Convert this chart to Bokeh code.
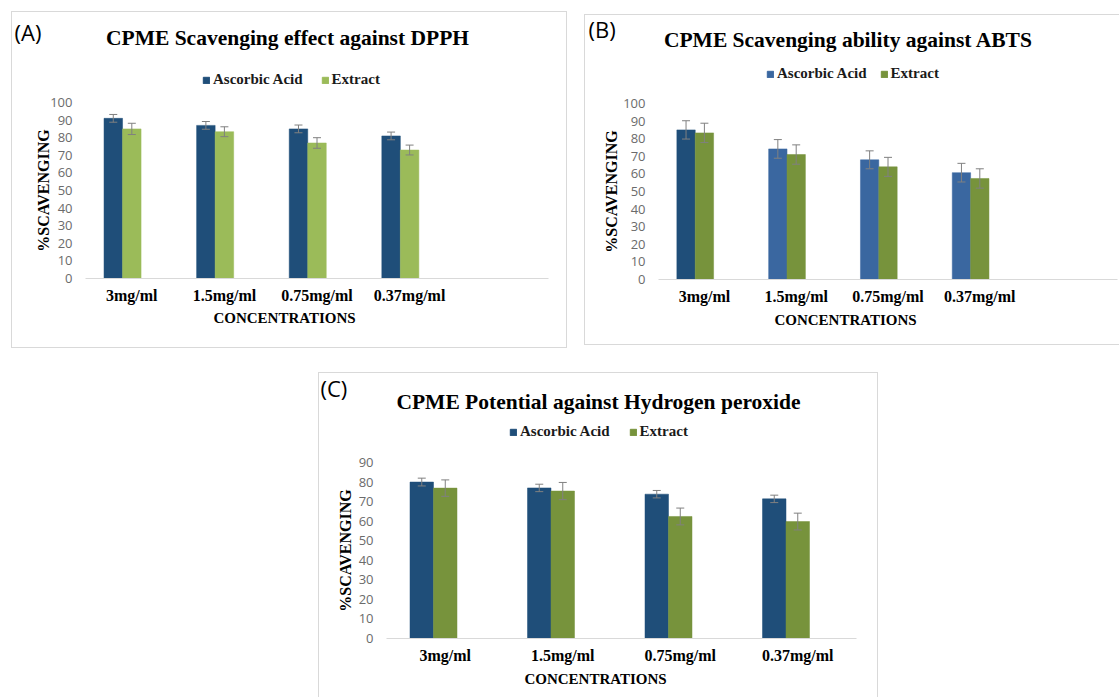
import numpy as np
from bokeh.plotting import figure
from bokeh.models import (ColumnDataSource, Range1d, FixedTicker, Whisker, TeeHead,
                          Label, Legend, LegendItem)
from bokeh.transform import dodge
from bokeh.layouts import row, column
from bokeh.embed import file_html
from bokeh.resources import INLINE

# ---------------- data ----------------
categories = ["3mg/ml", "1.5mg/ml", "0.75mg/ml", "0.37mg/ml"]
series_names = ["Ascorbic Acid", "Extract"]

dpph_ascorbic = [91, 87, 85, 81]
dpph_ascorbic_err = [2.2, 2.2, 2.2, 2.2]
dpph_extract = [85, 83.4, 77, 73]
dpph_extract_err = [3.2, 2.8, 3.0, 2.8]

abts_ascorbic = [85, 74.2, 68, 60.7]
abts_ascorbic_err = [5.2, 5.3, 5.1, 5.3]
abts_extract = [83.3, 71, 64, 57.4]
abts_extract_err = [5.5, 5.5, 5.4, 5.5]

h2o2_ascorbic = [80, 77, 73.8, 71.4]
h2o2_ascorbic_err = [2.0, 1.9, 1.9, 1.9]
h2o2_extract = [76.9, 75.4, 62.4, 59.8]
h2o2_extract_err = [4.2, 4.4, 4.3, 4.3]

SERIF = "Liberation Serif"
SANS = "Open Sans"
NAVY = "#1F4E79"
BORDER = "1px solid #d9d9d9"


def blank(W, H, y_range=None):
    f = figure(width=W, height=H, x_range=Range1d(0, 1),
               y_range=y_range if y_range is not None else Range1d(0, 1),
               x_axis_type=None, y_axis_type=None, output_backend="svg",
               toolbar_location=None, title=None, min_border=0,
               min_border_left=0, min_border_right=0, min_border_top=0, min_border_bottom=0)
    f.outline_line_color = None
    f.xgrid.visible = False
    f.ygrid.visible = False
    f.background_fill_color = "white"
    f.border_fill_color = "white"
    return f


def canvas_label(text, x, y, font, size, bold=False, align="center", angle=0.0):
    return Label(x=x, y=y, x_units="canvas", y_units="canvas", text=text,
                 text_font=font, text_font_size=size,
                 text_font_style="bold" if bold else "normal",
                 text_align=align, text_baseline="middle", angle=angle, text_color="black")


def panel(letter, title, asc, asc_err, ext, ext_err, y_max, asc_colors, legend_index,
          ext_color, W, top_h, bottom_h, borders, x_end, title_pos, letter_pos,
          legend_loc, legend_spacing, xtitle_y, ylabel_standoff, css, margin):
    bl, br = borders
    xs = np.arange(len(categories)) + 0.5
    asc_a = np.array(asc, dtype=float)
    ext_a = np.array(ext, dtype=float)
    src = ColumnDataSource(dict(
        x=xs, asc=asc_a, ext=ext_a,
        asc_lo=asc_a - np.array(asc_err), asc_hi=asc_a + np.array(asc_err),
        ext_lo=ext_a - np.array(ext_err), ext_hi=ext_a + np.array(ext_err),
        asc_color=asc_colors,
    ))

    # ---- top strip: letter, title, legend (legend keys use the series' own styling;
    #      the strip's y range lies far above the data, so no bars appear here) ----
    top = blank(W, top_h, y_range=Range1d(1000, 1001))
    top.add_layout(canvas_label(letter, letter_pos[0], letter_pos[1], SANS, "22px", align="left"))
    top.add_layout(canvas_label(title, title_pos[0], title_pos[1], SERIF, "21.5px", bold=True))
    g1 = top.vbar(x="x", top="asc", width=0.1, source=src,
                  fill_color="asc_color", line_color="asc_color")
    g2 = top.vbar(x="x", top="ext", width=0.1, source=src,
                  fill_color=ext_color, line_color=ext_color)
    legend = Legend(items=[LegendItem(label=series_names[0], renderers=[g1], index=legend_index),
                           LegendItem(label=series_names[1], renderers=[g2], index=0)],
                    location=legend_loc, orientation="horizontal",
                    glyph_width=8, glyph_height=8, label_standoff=3, spacing=legend_spacing,
                    padding=0, margin=0, border_line_color=None, background_fill_alpha=0,
                    label_text_font=SERIF, label_text_font_style="bold",
                    label_text_font_size="15px", label_text_color="#1a1a1a", label_height=16)
    top.add_layout(legend)

    # ---- chart ----
    p = figure(width=W, height=10 + 176 + 30, x_range=Range1d(0, x_end), y_range=Range1d(0, y_max),
               output_backend="svg", toolbar_location=None, title=None,
               min_border_left=bl, min_border_right=br, min_border_top=10, min_border_bottom=30)
    p.outline_line_color = None
    p.xgrid.visible = False
    p.ygrid.visible = False
    p.background_fill_color = "white"
    p.border_fill_color = "white"

    p.vbar(x=dodge("x", -0.2, range=p.x_range), top="asc", width=0.2, source=src,
           fill_color="asc_color", line_color="asc_color", line_width=0.5)
    p.vbar(x=dodge("x", 0.0, range=p.x_range), top="ext", width=0.2, source=src,
           fill_color=ext_color, line_color=ext_color, line_width=0.5)
    for off, lo, hi in ((-0.2, "asc_lo", "asc_hi"), (0.0, "ext_lo", "ext_hi")):
        p.add_layout(Whisker(base=dodge("x", off, range=p.x_range), lower=lo, upper=hi, source=src,
                             line_color="#808080", line_width=1, level="overlay",
                             upper_head=TeeHead(size=8, line_color="#808080", line_width=1),
                             lower_head=TeeHead(size=8, line_color="#808080", line_width=1)))

    p.yaxis.ticker = FixedTicker(ticks=list(range(0, y_max + 1, 10)))
    p.yaxis.axis_line_color = None
    p.yaxis.major_tick_line_color = None
    p.yaxis.minor_tick_line_color = None
    p.yaxis.major_label_text_font = SANS
    p.yaxis.major_label_text_font_size = "13px"
    p.yaxis.major_label_text_color = "#6b6b6b"
    p.yaxis.major_label_standoff = 7
    p.yaxis.axis_label = "%SCAVENGING"
    p.yaxis.axis_label_text_font = SERIF
    p.yaxis.axis_label_text_font_style = "bold"
    p.yaxis.axis_label_text_font_size = "16px"
    p.yaxis.axis_label_text_color = "black"
    p.yaxis.axis_label_standoff = ylabel_standoff

    p.xaxis.ticker = FixedTicker(ticks=list(xs))
    p.xaxis.major_label_overrides = {float(x): c for x, c in zip(xs, categories)}
    p.xaxis.axis_line_color = "#d9d9d9"
    p.xaxis.axis_line_width = 1
    p.xaxis.major_tick_line_color = None
    p.xaxis.major_tick_out = 0
    p.xaxis.minor_tick_line_color = None
    p.xaxis.major_label_text_font = SERIF
    p.xaxis.major_label_text_font_style = "bold"
    p.xaxis.major_label_text_font_size = "16px"
    p.xaxis.major_label_text_color = "black"
    p.xaxis.major_label_standoff = 8

    # ---- bottom strip: x-axis title ----
    bot = blank(W, bottom_h)
    bot.add_layout(canvas_label("CONCENTRATIONS", title_pos[0] - 3, xtitle_y, SERIF, "15px", bold=True))

    return column(row(top), p, row(bot), styles=css, margin=margin, spacing=0)


colA = panel("(A)", "CPME Scavenging effect against DPPH",
             dpph_ascorbic, dpph_ascorbic_err, dpph_extract, dpph_extract_err, 100,
             [NAVY] * 4, 0, "#9BBB59",
             W=554, top_h=80, bottom_h=39, borders=(73, 18), x_end=5.0,
             title_pos=(275, 25), letter_pos=(2, 19), legend_loc=(190, 4), legend_spacing=18,
             xtitle_y=9, ylabel_standoff=-5,
             css={"border": BORDER}, margin=(11, 0, 0, 11))

colB = panel("(B)", "CPME Scavenging ability against ABTS",
             abts_ascorbic, abts_ascorbic_err, abts_extract, abts_extract_err, 100,
             [NAVY, "#3A67A0", "#3A67A0", "#3A67A0"], 1, "#77933C",
             W=534, top_h=78, bottom_h=35, borders=(73, 2), x_end=5.0,
             title_pos=(263, 24), letter_pos=(3, 13), legend_loc=(181, 11), legend_spacing=13,
             xtitle_y=10, ylabel_standoff=0,
             css={"border-top": BORDER, "border-left": BORDER, "border-bottom": BORDER},
             margin=(14, 0, 0, 17))

colC = panel("(C)", "CPME Potential against Hydrogen peroxide",
             h2o2_ascorbic, h2o2_ascorbic_err, h2o2_extract, h2o2_extract_err, 90,
             [NAVY] * 4, 0, "#77933C",
             W=558, top_h=79, bottom_h=29, borders=(67, 21), x_end=4.0,
             title_pos=(279, 28), letter_pos=(1, 14), legend_loc=(190, 12), legend_spacing=19,
             xtitle_y=10, ylabel_standoff=2,
             css={"border-top": BORDER, "border-left": BORDER, "border-right": BORDER},
             margin=(24, 0, 0, 318))

layout = column(row(colA, colB), colC)
open("out.html", "w").write(file_html(layout, INLINE))
